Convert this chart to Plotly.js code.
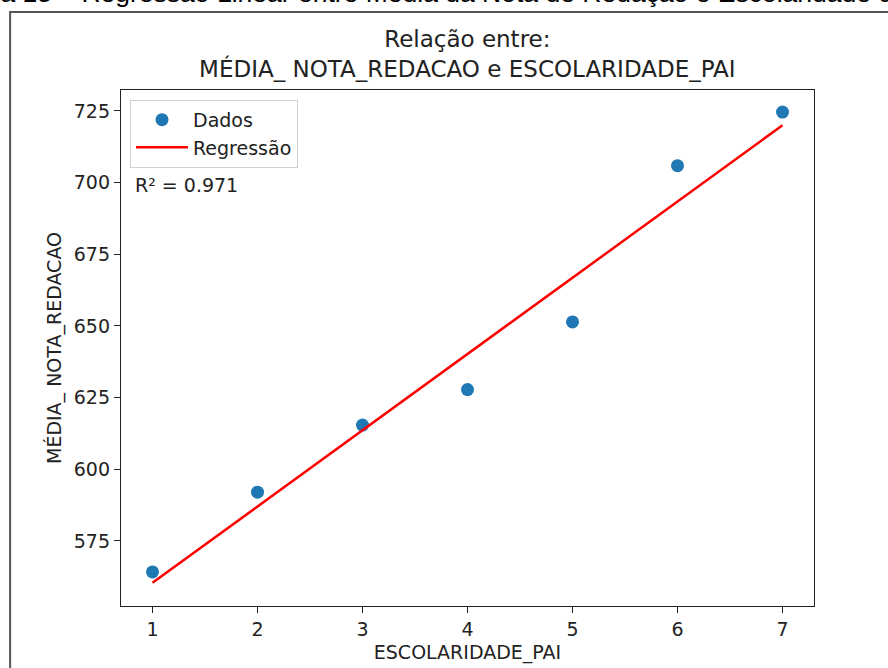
<!DOCTYPE html>
<html>
<head>
<meta charset="utf-8">
<script src="https://cdn.plot.ly/plotly-3.0.1.min.js"></script>
<style>html,body{margin:0;padding:0;background:#fff;}#chart{width:888px;height:668px;}</style>
</head>
<body>
<div id="chart"></div>
<script>
// Data
const escolaridadePai = [1, 2, 3, 4, 5, 6, 7];
const mediaNotaRedacao = [564.2, 592.0, 615.4, 627.8, 651.4, 705.9, 724.6];
const regX = [1, 7];
const regY = [560.4, 720.0];
const r2Text = "R² = 0.971";
const xTicks = [1, 2, 3, 4, 5, 6, 7];
const yTicks = [575, 600, 625, 650, 675, 700, 725];
const captionText = "Figura 15 – Regressão Linear entre Média da Nota de Redação e Escolaridade do Pai";

const font = "DejaVu Sans, sans-serif";

const traces = [
  {
    x: escolaridadePai, y: mediaNotaRedacao, type: "scatter", mode: "markers", name: "Dados",
    legendgroup: "a", marker: {color: "#1f77b4", size: 13}
  },
  {
    x: regX, y: regY, type: "scatter", mode: "lines", name: "Regressão",
    legendgroup: "b", line: {color: "#ff0000", width: 2.5}
  }
];

const layout = {
  width: 888, height: 668,
  margin: {l: 121, r: 74, t: 90, b: 62},
  paper_bgcolor: "#ffffff", plot_bgcolor: "#ffffff",
  font: {family: font, size: 19, color: "#222"},
  title: {
    text: "Relação entre:<br>MÉDIA_ NOTA_REDACAO e ESCOLARIDADE_PAI",
    font: {family: font, size: 23, color: "#222"},
    x: 0.5263, xanchor: "center", y: 0.929, yanchor: "top", yref: "container"
  },
  xaxis: {
    range: [0.7, 7.3], tickvals: xTicks, ticks: "outside", ticklen: 6, tickcolor: "#222",
    showline: true, linecolor: "#222", linewidth: 1.2, mirror: true, showgrid: false, zeroline: false,
    tickfont: {size: 19}, title: {text: "ESCOLARIDADE_PAI", font: {size: 19}, standoff: 6}
  },
  yaxis: {
    range: [552.3, 732.3], tickvals: yTicks, ticks: "outside", ticklen: 6, tickcolor: "#222",
    showline: true, linecolor: "#222", linewidth: 1.2, mirror: true, showgrid: false, zeroline: false,
    tickfont: {size: 19}, title: {text: "MÉDIA_ NOTA_REDACAO", font: {size: 19}, standoff: 7}
  },
  showlegend: true,
  legend: {
    x: 0.013, y: 0.981, xanchor: "left", yanchor: "top",
    bgcolor: "rgba(255,255,255,0.8)", bordercolor: "#d0d0d0", borderwidth: 1,
    font: {size: 19, color: "#222"}, itemwidth: 52, tracegroupgap: 0
  },
  annotations: [
    {text: r2Text, xref: "paper", yref: "paper", x: 0.018, y: 0.816, xanchor: "left", yanchor: "middle",
     showarrow: false, font: {size: 19, color: "#222"}},
    {text: captionText, xref: "paper", yref: "paper", x: -0.264, y: 1.156, xanchor: "left", yanchor: "bottom",
     showarrow: false, font: {family: "Liberation Sans, Arial, sans-serif", size: 26.5, color: "#000"}}
  ],
  shapes: [
    {type: "rect", xref: "paper", yref: "paper", x0: -0.160, y0: -0.2, x1: 1.3, y1: 1.151,
     line: {color: "#555", width: 2}, fillcolor: "rgba(0,0,0,0)", layer: "below"}
  ]
};

Plotly.newPlot("chart", traces, layout, {displayModeBar: false, staticPlot: true});
</script>
</body>
</html>
